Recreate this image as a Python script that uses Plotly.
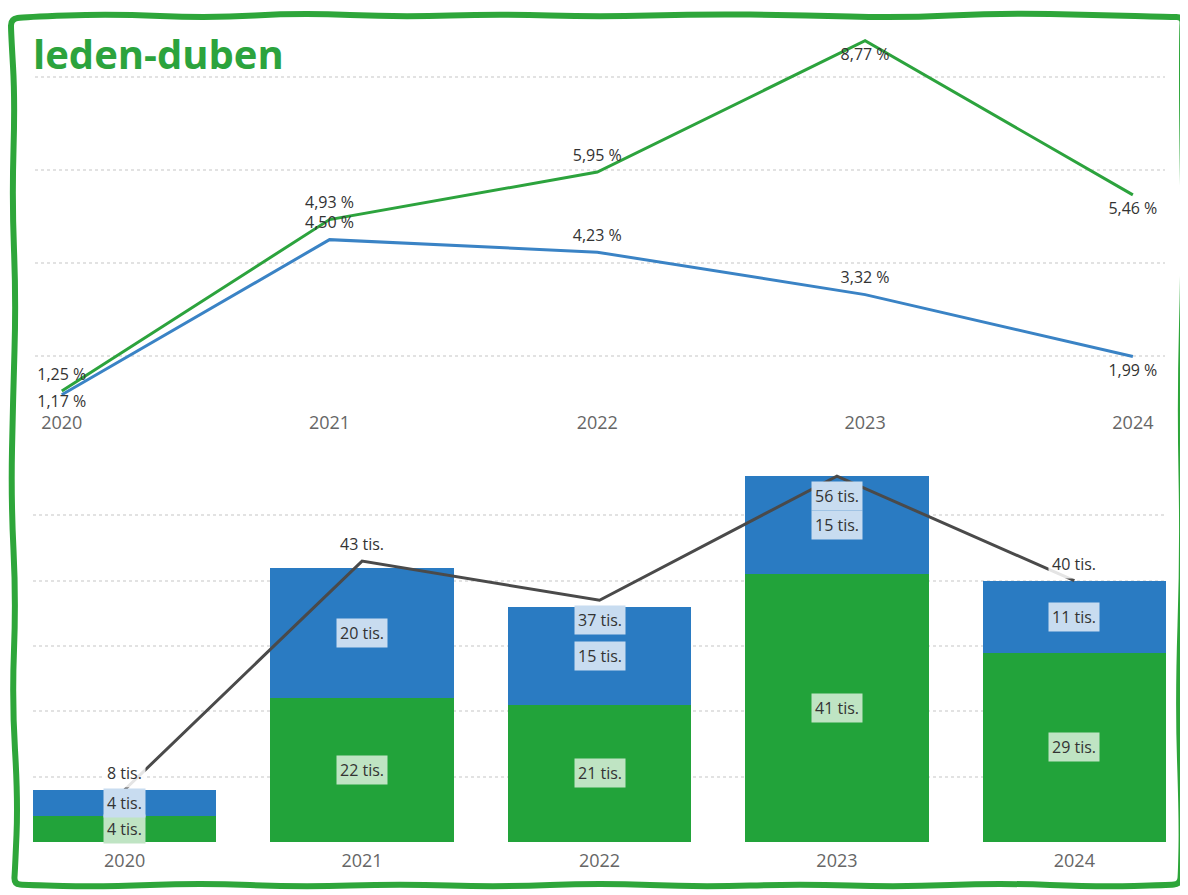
import plotly.graph_objects as go

# leden-duben, 2020-2024
years = ["2020", "2021", "2022", "2023", "2024"]
pct_green = [1.25, 4.93, 5.95, 8.77, 5.46]
pct_blue = [1.17, 4.50, 4.23, 3.32, 1.99]
count_green = [4, 22, 21, 41, 29]
count_blue = [4, 20, 15, 15, 11]
count_total = [8, 43, 37, 56, 40]

# label placement per point (style only)
green_pos = ["top center", "top center", "top center", "bottom center", "bottom center"]
blue_pos = ["bottom center", "top center", "top center", "top center", "bottom center"]
blue_gap = [0, 10, 10, 10, 10]
total_above = [True, True, False, False, True]

# the page body has an 8px margin, so the figure is drawn 8px in from the corner
OFF = 8
W, H = 1188 - OFF, 895 - OFF
GREEN = "#2ca33d"
BLUE = "#3a83c5"
BAR_GREEN = "#22a33a"
BAR_BLUE = "#2a7bc2"
LABEL_FONT = dict(family="Open Sans, Noto Sans, sans-serif", size=16, color="#333333")
TICK_FONT = dict(family="Open Sans, Noto Sans, sans-serif", size=18, color="#666666")
INVISIBLE = "rgba(0,0,0,0)"


def pct(v):
    return f"{v:.2f}".replace(".", ",") + " %"


def tis(v):
    return f"{v:.0f} tis."


def fx(x):
    return (x - OFF) / W


def fy(y):
    return 1 - (y - OFF) / H


fig = go.Figure()

# top: percentages (invisible markers only push the labels off the line)
fig.add_trace(go.Scatter(
    x=years, y=pct_green, mode="lines+markers+text", text=[pct(v) for v in pct_green],
    textposition=green_pos, textfont=LABEL_FONT, line=dict(color=GREEN, width=3),
    marker=dict(size=10, color=INVISIBLE, line=dict(width=0, color=INVISIBLE)),
    xaxis="x", yaxis="y", cliponaxis=False, showlegend=False,
))
fig.add_trace(go.Scatter(
    x=years, y=pct_blue, mode="lines+markers+text", text=[pct(v) for v in pct_blue],
    textposition=blue_pos, textfont=LABEL_FONT, line=dict(color=BLUE, width=3),
    marker=dict(size=blue_gap, color=INVISIBLE, line=dict(width=0, color=INVISIBLE)),
    xaxis="x", yaxis="y", cliponaxis=False, showlegend=False,
))

# bottom: counts
fig.add_trace(go.Bar(x=years, y=count_green, marker=dict(color=BAR_GREEN, line_width=0),
                     xaxis="x2", yaxis="y2", showlegend=False))
fig.add_trace(go.Bar(x=years, y=count_blue, marker=dict(color=BAR_BLUE, line_width=0),
                     xaxis="x2", yaxis="y2", showlegend=False))
fig.add_trace(go.Scatter(x=years, y=count_total, mode="lines", line=dict(color="#4a4a4a", width=3),
                         xaxis="x2", yaxis="y2", showlegend=False))

annotations = []
for i, (g, b, t, above) in enumerate(zip(count_green, count_blue, count_total, total_above)):
    annotations.append(dict(x=i, y=g / 2, xref="x2", yref="y2", text=tis(g), showarrow=False,
                            font=LABEL_FONT, bgcolor="#bfe4c3", borderpad=3))
    annotations.append(dict(x=i, y=g + b / 2, xref="x2", yref="y2", text=tis(b), showarrow=False,
                            font=LABEL_FONT, bgcolor="#c8dcf0", borderpad=3))
    annotations.append(dict(x=i, y=t, xref="x2", yref="y2", text=tis(t), showarrow=False,
                            font=LABEL_FONT, borderpad=3,
                            bgcolor="rgba(255,255,255,0.85)" if above else "#c8dcf0",
                            yanchor="bottom" if above else "top",
                            yshift=2 if above else -5))

annotations.append(dict(x=fx(31), y=fy(54), xref="paper", yref="paper", xanchor="left", yanchor="middle",
                        text="<b>leden-duben</b>", showarrow=False,
                        font=dict(family="Open Sans, Noto Sans, sans-serif", size=40, color=GREEN)))

# hand-drawn frame (decoration, screen pixel points)
frame = [
    (11, 19), (24, 17), (110, 14), (210, 18), (300, 13), (400, 17), (500, 14), (600, 17), (700, 14),
    (800, 15), (900, 18), (1000, 13), (1100, 15), (1170, 17), (1183, 17), (1182, 30),
    (1182, 120), (1184, 250), (1180, 400), (1183, 550), (1178, 700), (1182, 820), (1181, 872), (1180, 884),
    (1168, 885), (1100, 887), (1000, 883), (900, 887), (800, 884), (700, 887), (600, 883), (500, 887),
    (400, 884), (300, 887), (200, 883), (100, 887), (26, 885), (14, 884), (15, 870),
    (18, 800), (12, 700), (16, 600), (11, 500), (13, 400), (16, 300), (12, 200), (15, 100), (11, 32),
]
pts = frame + [frame[0]]
mids = [((pts[i][0] + pts[i + 1][0]) / 2, (pts[i][1] + pts[i + 1][1]) / 2) for i in range(len(pts) - 1)]
path = f"M {fx(mids[-1][0])},{fy(mids[-1][1])}"
for i, m in enumerate(mids):
    p = pts[i]
    path += f" Q {fx(p[0])},{fy(p[1])} {fx(m[0])},{fy(m[1])}"
path += " Z"

fig.update_layout(
    width=W, height=H,
    margin=dict(l=0, r=0, t=0, b=0),
    paper_bgcolor="white", plot_bgcolor="white",
    barmode="stack", bargap=0.228,
    xaxis=dict(domain=[fx(35), fx(1165)], type="category", range=[-0.1, 4.12],
               showgrid=False, zeroline=False, showline=False, tickfont=TICK_FONT,
               ticks="outside", ticklen=1, tickcolor="white", anchor="y"),
    yaxis=dict(domain=[fy(405), fy(30)], range=[0.95, 9.0], dtick=2, tick0=0,
               showgrid=True, gridcolor="#e2e2e2", griddash="dot", gridwidth=1.5,
               zeroline=False, showticklabels=False, anchor="x"),
    xaxis2=dict(domain=[fx(33), fx(1166)], type="category", range=[-0.386, 4.386],
                showgrid=False, zeroline=False, showline=False, tickfont=TICK_FONT,
                ticks="outside", ticklen=2, tickcolor="white", anchor="y2"),
    yaxis2=dict(domain=[fy(842), fy(450)], range=[0, 60], dtick=10, tick0=0,
                showgrid=True, gridcolor="#e2e2e2", griddash="dot", gridwidth=1.5,
                zeroline=False, showticklabels=False, anchor="x2"),
    annotations=annotations,
    shapes=[dict(type="path", path=path, xref="paper", yref="paper",
                 line=dict(color="#2ea63a", width=6), layer="above")],
)

fig.write_html("out.html")
